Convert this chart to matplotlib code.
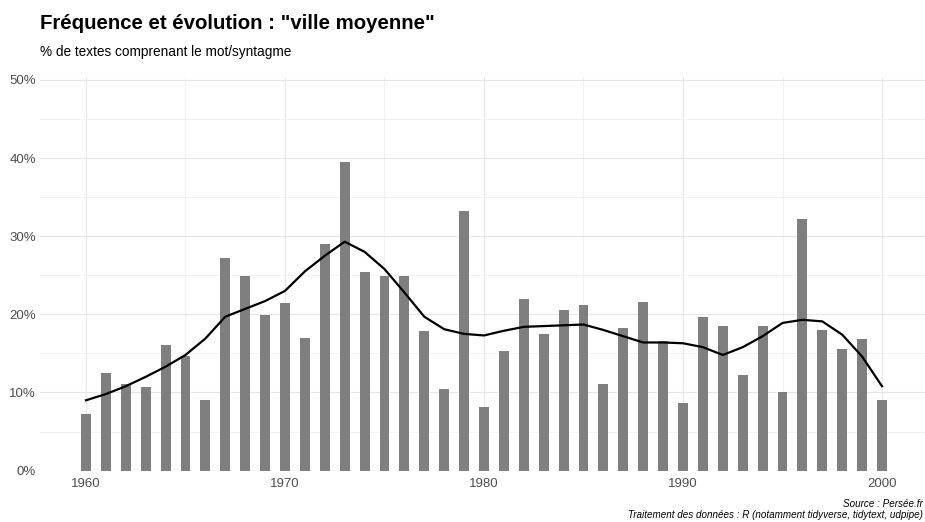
import numpy as np
import matplotlib
matplotlib.use("Agg")
import matplotlib.pyplot as plt
from matplotlib.ticker import FixedLocator

# data
years = list(range(1960, 2001))
freq = [7.2, 12.5, 11.1, 10.7, 16.1, 14.7, 9.1, 27.2, 24.9, 19.9,
        21.4, 17.0, 29.0, 39.5, 25.4, 24.9, 24.9, 17.9, 10.4, 33.2,
        8.1, 15.3, 22.0, 17.5, 20.6, 21.2, 11.1, 18.2, 21.6, 16.6,
        8.7, 19.6, 18.5, 12.3, 18.5, 10.0, 32.2, 18.0, 15.6, 16.9,
        9.1]
smooth = [9.0, 9.8, 10.8, 12.0, 13.3, 14.8, 16.9, 19.7, 20.7, 21.7,
          23.0, 25.5, 27.5, 29.3, 28.0, 25.8, 22.8, 19.7, 18.1, 17.5,
          17.3, 17.9, 18.4, 18.5, 18.6, 18.7, 18.0, 17.2, 16.4, 16.4,
          16.3, 15.8, 14.8, 15.8, 17.2, 18.9, 19.3, 19.1, 17.4, 14.6,
          10.8]
x_ticks = [1960, 1970, 1980, 1990, 2000]
y_ticks = [0, 10, 20, 30, 40, 50]

plt.rcParams['font.family'] = ['Liberation Sans', 'DejaVu Sans']

fig = plt.figure(figsize=(9.25, 5.22), dpi=100)
ax = fig.add_axes([40/925, 1 - 471/522, 885/925, (471 - 77)/522])

ax.bar(years, freq, width=0.5, color='#7F7F7F', zorder=2)
ax.plot(years, smooth, color='black', lw=1.6, zorder=3)

ax.set_xlim(1957.69, 2002.16)
ax.set_ylim(-0.05, 50.38)
ax.set_xticks(x_ticks)
ax.set_yticks(y_ticks)
ax.set_yticklabels([f"{v}%" for v in y_ticks])
ax.xaxis.set_minor_locator(FixedLocator([1955, 1965, 1975, 1985, 1995, 2005]))
ax.yaxis.set_minor_locator(FixedLocator([5, 15, 25, 35, 45]))
ax.grid(which='major', color='#E6E6E6', lw=0.8, zorder=0)
ax.grid(which='minor', color='#F0F0F0', lw=0.6, zorder=0)
ax.set_axisbelow(True)
for s in ax.spines.values():
    s.set_visible(False)
ax.tick_params(which='both', length=0)
ax.tick_params(axis='both', labelsize=9.5, labelcolor='#4D4D4D')
ax.tick_params(axis='x', pad=5)
ax.tick_params(axis='y', pad=3)

fig.text(40/925, 1 - 24/522, 'Fréquence et évolution : "ville moyenne"',
         fontsize=14.7, fontweight='bold', va='center', ha='left')
fig.text(40/925, 1 - 52/522, '% de textes comprenant le mot/syntagme',
         fontsize=9.8, va='center', ha='left')
fig.text(923/925, 1 - 504/522, 'Source : Persée.fr', fontsize=7.1,
         style='italic', va='center', ha='right')
fig.text(923/925, 1 - 514.5/522,
         'Traitement des données : R (notamment tidyverse, tidytext, udpipe)',
         fontsize=7.1, style='italic', va='center', ha='right')

fig.savefig('out.png', dpi=100)
